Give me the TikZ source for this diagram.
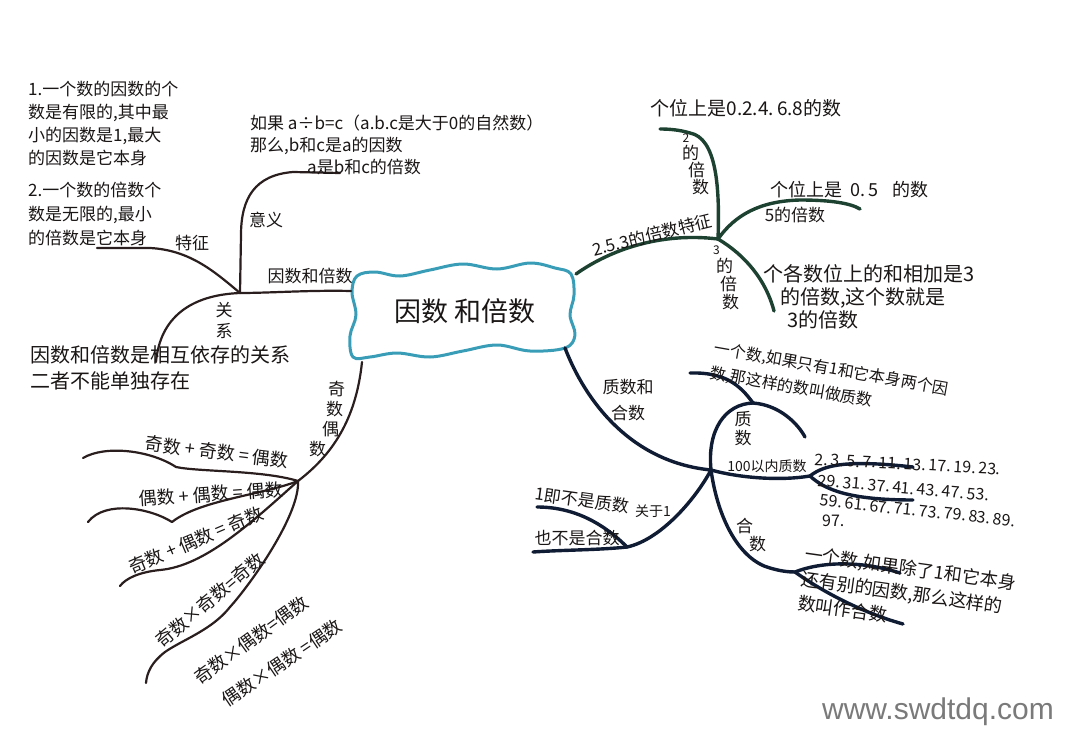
\documentclass[tikz,border=0pt]{standalone}
\usepackage{fontspec}
\newfontfamily\cjk{Noto Sans CJK SC}
\newfontfamily\wmfont{Liberation Sans}
\newcommand\fsz[2]{\cjk\fontsize{#1}{#2}\selectfont}
\definecolor{ink}{HTML}{1A1616}
\definecolor{brn}{HTML}{2B1E1E}
\definecolor{grn}{HTML}{1E4232}
\definecolor{nvy}{HTML}{0F1C33}
\definecolor{cld}{HTML}{3A9DB8}
\definecolor{wmgray}{HTML}{7A7A7A}
\tikzset{
  tx/.style={font=\fsz{17}{22}, text=ink, inner sep=0pt, align=left},
  numrow/.style={tx, anchor=west, font=\fsz{16}{19}, text height=11pt, text depth=1pt},
  brL/.style={draw=brn, line width=2.2pt, line cap=round, line join=round},
  brG/.style={draw=grn, line width=3.4pt, line cap=round, line join=round},
  brN/.style={draw=nvy, line width=3.4pt, line cap=round, line join=round},
  cloudline/.style={draw=cld, line width=3pt, line join=round},
}
\begin{document}
\begin{tikzpicture}[x=1pt,y=-1pt]
\fill[white] (0,0) rectangle (1080,755);

% ---------- central cloud ----------
\draw[cloudline] plot[smooth cycle, tension=0.6] coordinates {
 (352,292) (357,276) (375,272) (400,276) (430,270) (463,264) (497,269)
 (530,263) (555,268) (571,274) (574,295) (570,315) (575,335) (565,348)
 (530,351) (497,345) (463,351) (430,357) (397,353) (370,357) (353,357)
 (350,336) (356,315)};
\node[tx, font=\fsz{27}{30}] (centre) at (465,311) {因数 和倍数};

% ---------- coordinates ----------
\coordinate (cL)  at (351,291);
\coordinate (cBL) at (362,362);
\coordinate (cR)  at (576,274);
\coordinate (cBR) at (565,348);
\coordinate (J1) at (240,293);
\coordinate (J2) at (298,481);
\coordinate (J3) at (718,239);
\coordinate (J4) at (711,470);
\coordinate (eYY) at (340,173);
\coordinate (eTZ) at (97,248);
\coordinate (eGX) at (156,362);
\coordinate (eB1) at (83,458);
\coordinate (eB2) at (88,522);
\coordinate (eB3) at (120,586);
\coordinate (eB4) at (146,683);
\coordinate (e2) at (660,129);
\coordinate (e5) at (860,209);
\coordinate (e3) at (774,311);
\coordinate (K1) at (753,403);
\coordinate (eZ1) at (805,437);
\coordinate (eZ2) at (690,373);
\coordinate (K2) at (810,476);
\coordinate (eN1) at (913,467);
\coordinate (eN2) at (913,500);
\coordinate (K3) at (795,572);
\coordinate (eH1) at (900,573);
\coordinate (eH2) at (903,624);
\coordinate (K4) at (627,547);
\coordinate (eO1) at (537,507);
\coordinate (eO2) at (533,552);

% ---------- left branches ----------
\draw[brL] (cL) .. controls (310,290) and (270,293) .. (J1);
\draw[brL] (J1) -- (241,235) .. controls (241,198) and (255,175) .. (293,172) -- (eYY);
\draw[brL] (J1) .. controls (215,272) and (190,250) .. (150,248) -- (eTZ);
\draw[brL] (J1) .. controls (190,295) and (160,318) .. (eGX);

% odd / even
\draw[brL] (cBL) .. controls (356,420) and (332,455) .. (J2);
\draw[brL] (J2) .. controls (262,470) and (200,472) .. (176,467) .. controls (150,450) and (105,445) .. (eB1);
\draw[brL] (J2) .. controls (262,495) and (200,500) .. (172,522) .. controls (150,508) and (105,500) .. (eB2);
\draw[brL] (J2) .. controls (252,522) and (205,566) .. (160,570) .. controls (140,572) and (126,578) .. (eB3);
\draw[brL] (J2) .. controls (300,515) and (250,585) .. (230,607) .. controls (212,630) and (182,640) .. (165,652) .. controls (152,662) and (147,672) .. (eB4);

% ---------- right branches ----------
\draw[brG] (cR) .. controls (610,250) and (660,232) .. (J3);
\draw[brG] (J3) .. controls (720,185) and (716,138) .. (690,133) .. controls (680,130) and (670,129) .. (e2);
\draw[brG] (J3) .. controls (735,215) and (760,201) .. (800,200) .. controls (830,200) and (850,203) .. (e5);
\draw[brG] (J3) .. controls (745,255) and (766,280) .. (e3);

\draw[brN] (cBR) .. controls (585,400) and (630,462) .. (J4);
\draw[brN] (J4) .. controls (707,430) and (725,404) .. (K1) .. controls (780,405) and (798,424) .. (eZ1);
\draw[brN] (K1) .. controls (740,385) and (725,372) .. (eZ2);
\draw[brN] (J4) .. controls (740,478) and (780,481) .. (K2);
\draw[brN] (K2) .. controls (825,464) and (850,460) .. (eN1);
\draw[brN] (K2) .. controls (825,490) and (850,500) .. (eN2);
\draw[brN] (J4) .. controls (718,520) and (740,560) .. (770,568) .. controls (780,571) and (788,572) .. (K3);
\draw[brN] (K3) .. controls (820,562) and (860,560) .. (eH1);
\draw[brN] (K3) .. controls (820,590) and (860,612) .. (eH2);
\draw[brN] (J4) .. controls (695,500) and (660,540) .. (K4);
\draw[brN] (K4) .. controls (600,520) and (570,507) .. (eO1);
\draw[brN] (K4) .. controls (600,550) and (560,550) .. (eO2);

% ---------- left texts ----------
\node[tx, anchor=north west, font=\fsz{17}{23}] (t1) at (28,81)
  {1.一个数的因数的个\\数是有限的,其中最\\小的因数是1,最大\\的因数是它本身};
\node[tx, anchor=north west, font=\fsz{17}{24}] (t2) at (28,182)
  {2.一个数的倍数个\\数是无限的,最小\\的倍数是它本身};
\node[tx] (tz) at (192,243) {特征};
\node[tx] (yy) at (266,220) {意义};
\node[tx, anchor=north west, font=\fsz{17}{22}] (t3) at (250,115)
  {如果 a÷b=c（a.b.c是大于0的自然数）\\那么,b和c是a的因数\\\hspace{57pt}a是b和c的倍数};
\node[tx] (ysb) at (310,276) {因数和倍数};
\node[tx, align=center, font=\fsz{17}{21}] (gx) at (224,320) {关\\系};
\node[tx, anchor=north west, font=\fsz{20}{26}] (t4) at (30,345)
  {因数和倍数是相互依存的关系\\二者不能单独存在};

% odd/even texts
\node[tx, anchor=north west, font=\fsz{17}{20}] (jo) at (309,381)
  {\hspace{19pt}奇\\\hspace{17pt}数\\\hspace{13pt}偶\\数};
\node[tx, rotate=-7, font=\fsz{18}{22}] (o1) at (217,452) {奇数 + 奇数 = 偶数};
\node[tx, rotate=4, font=\fsz{18}{22}] (o2) at (211,494) {偶数 + 偶数 = 偶数};
\node[tx, rotate=23, font=\fsz{18}{22}] (o3) at (196,540) {奇数 + 偶数 = 奇数};
\node[tx, rotate=40, font=\fsz{18}{22}] (o4) at (210,600) {奇数×奇数=奇数};
\node[tx, rotate=36, font=\fsz{18}{22}] (o5) at (251,640) {奇数×偶数=偶数};
\node[tx, rotate=34, font=\fsz{18}{22}] (o6) at (282,663) {偶数×偶数 =偶数};

% ---------- right texts ----------
\node[tx, rotate=14] (r253) at (652,235) {2.5.3的倍数特征};
\node[tx, font=\fsz{19}{22}] (r2) at (746,108) {个位上是0.2.4.\,6.8的数};
\node[tx, anchor=north west, font=\fsz{17}{17}] (l2) at (682,134)
  {\hspace{0.5pt}{\fontsize{12}{12}\selectfont 2}\\的\\\hspace{6pt}倍\\\hspace{10pt}数};
\node[tx, anchor=west, font=\fsz{18}{22}] (r5) at (770,190) {个位上是\hspace{8pt}0.\,5\hspace{14pt}的数};
\node[tx] (l5) at (795,215) {5的倍数};
\node[tx, anchor=north west, font=\fsz{17}{18}] (l3) at (713,246)
  {{\fontsize{12}{12}\selectfont 3}\\\hspace{3pt}的\\\hspace{7pt}倍\\\hspace{9pt}数};
\node[tx, anchor=north west, font=\fsz{20}{23}] (r3) at (763,264)
  {个各数位上的和相加是3\\\hspace{17pt}的倍数,这个数就是\\\hspace{24pt}3的倍数};

\node[tx, align=center, font=\fsz{17}{26}] (zh) at (628,400) {质数和\\合数};
\node[tx, anchor=north west, rotate=-10, font=\fsz{16}{25}] (zdef) at (716,340)
  {一个数,如果只有1和它本身两个因\\数,那这样的数叫做质数};
\node[tx, align=center, font=\fsz{17}{19}] (lz) at (743,429) {质\\数};
\node[tx, font=\fsz{14}{16}] (l100) at (767,466) {100以内质数};
\node[numrow, rotate=-3] (n1) at (815,460) {2.\,3.\,5.\,7.\,11.\,13.\,17.\,19.\,23.};
\node[numrow, rotate=-5] (n2) at (818,481) {29.\,31.\,37.\,41.\,43.\,47.\,53.};
\node[numrow, rotate=-6] (n3) at (820,501) {59.\,61.\,67.\,71.\,73.\,79.\,83.\,89.};
\node[numrow] (n4) at (822,521) {97.};
\node[tx, anchor=north west, font=\fsz{17}{18}] (lh) at (736,518) {合\\\hspace{13pt}数};
\node[tx, anchor=north west, rotate=-8, font=\fsz{18}{25}] (hdef) at (806,545)
  {一个数,如果除了1和它本身\\还有别的因数,那么这样的\\数叫作合数};
\node[tx, rotate=-8, font=\fsz{17}{20}] (one1) at (582,500) {1即不是质数};
\node[tx, font=\fsz{14}{16}] (about1) at (653,511) {关于1};
\node[tx, font=\fsz{17}{20}] (one2) at (577,538) {也不是合数};

% watermark
\node[font=\wmfont\fontsize{30}{30}\selectfont, text=wmgray, inner sep=0pt] (wm) at (938,712) {www.swdtdq.com};
\end{tikzpicture}
\end{document}
